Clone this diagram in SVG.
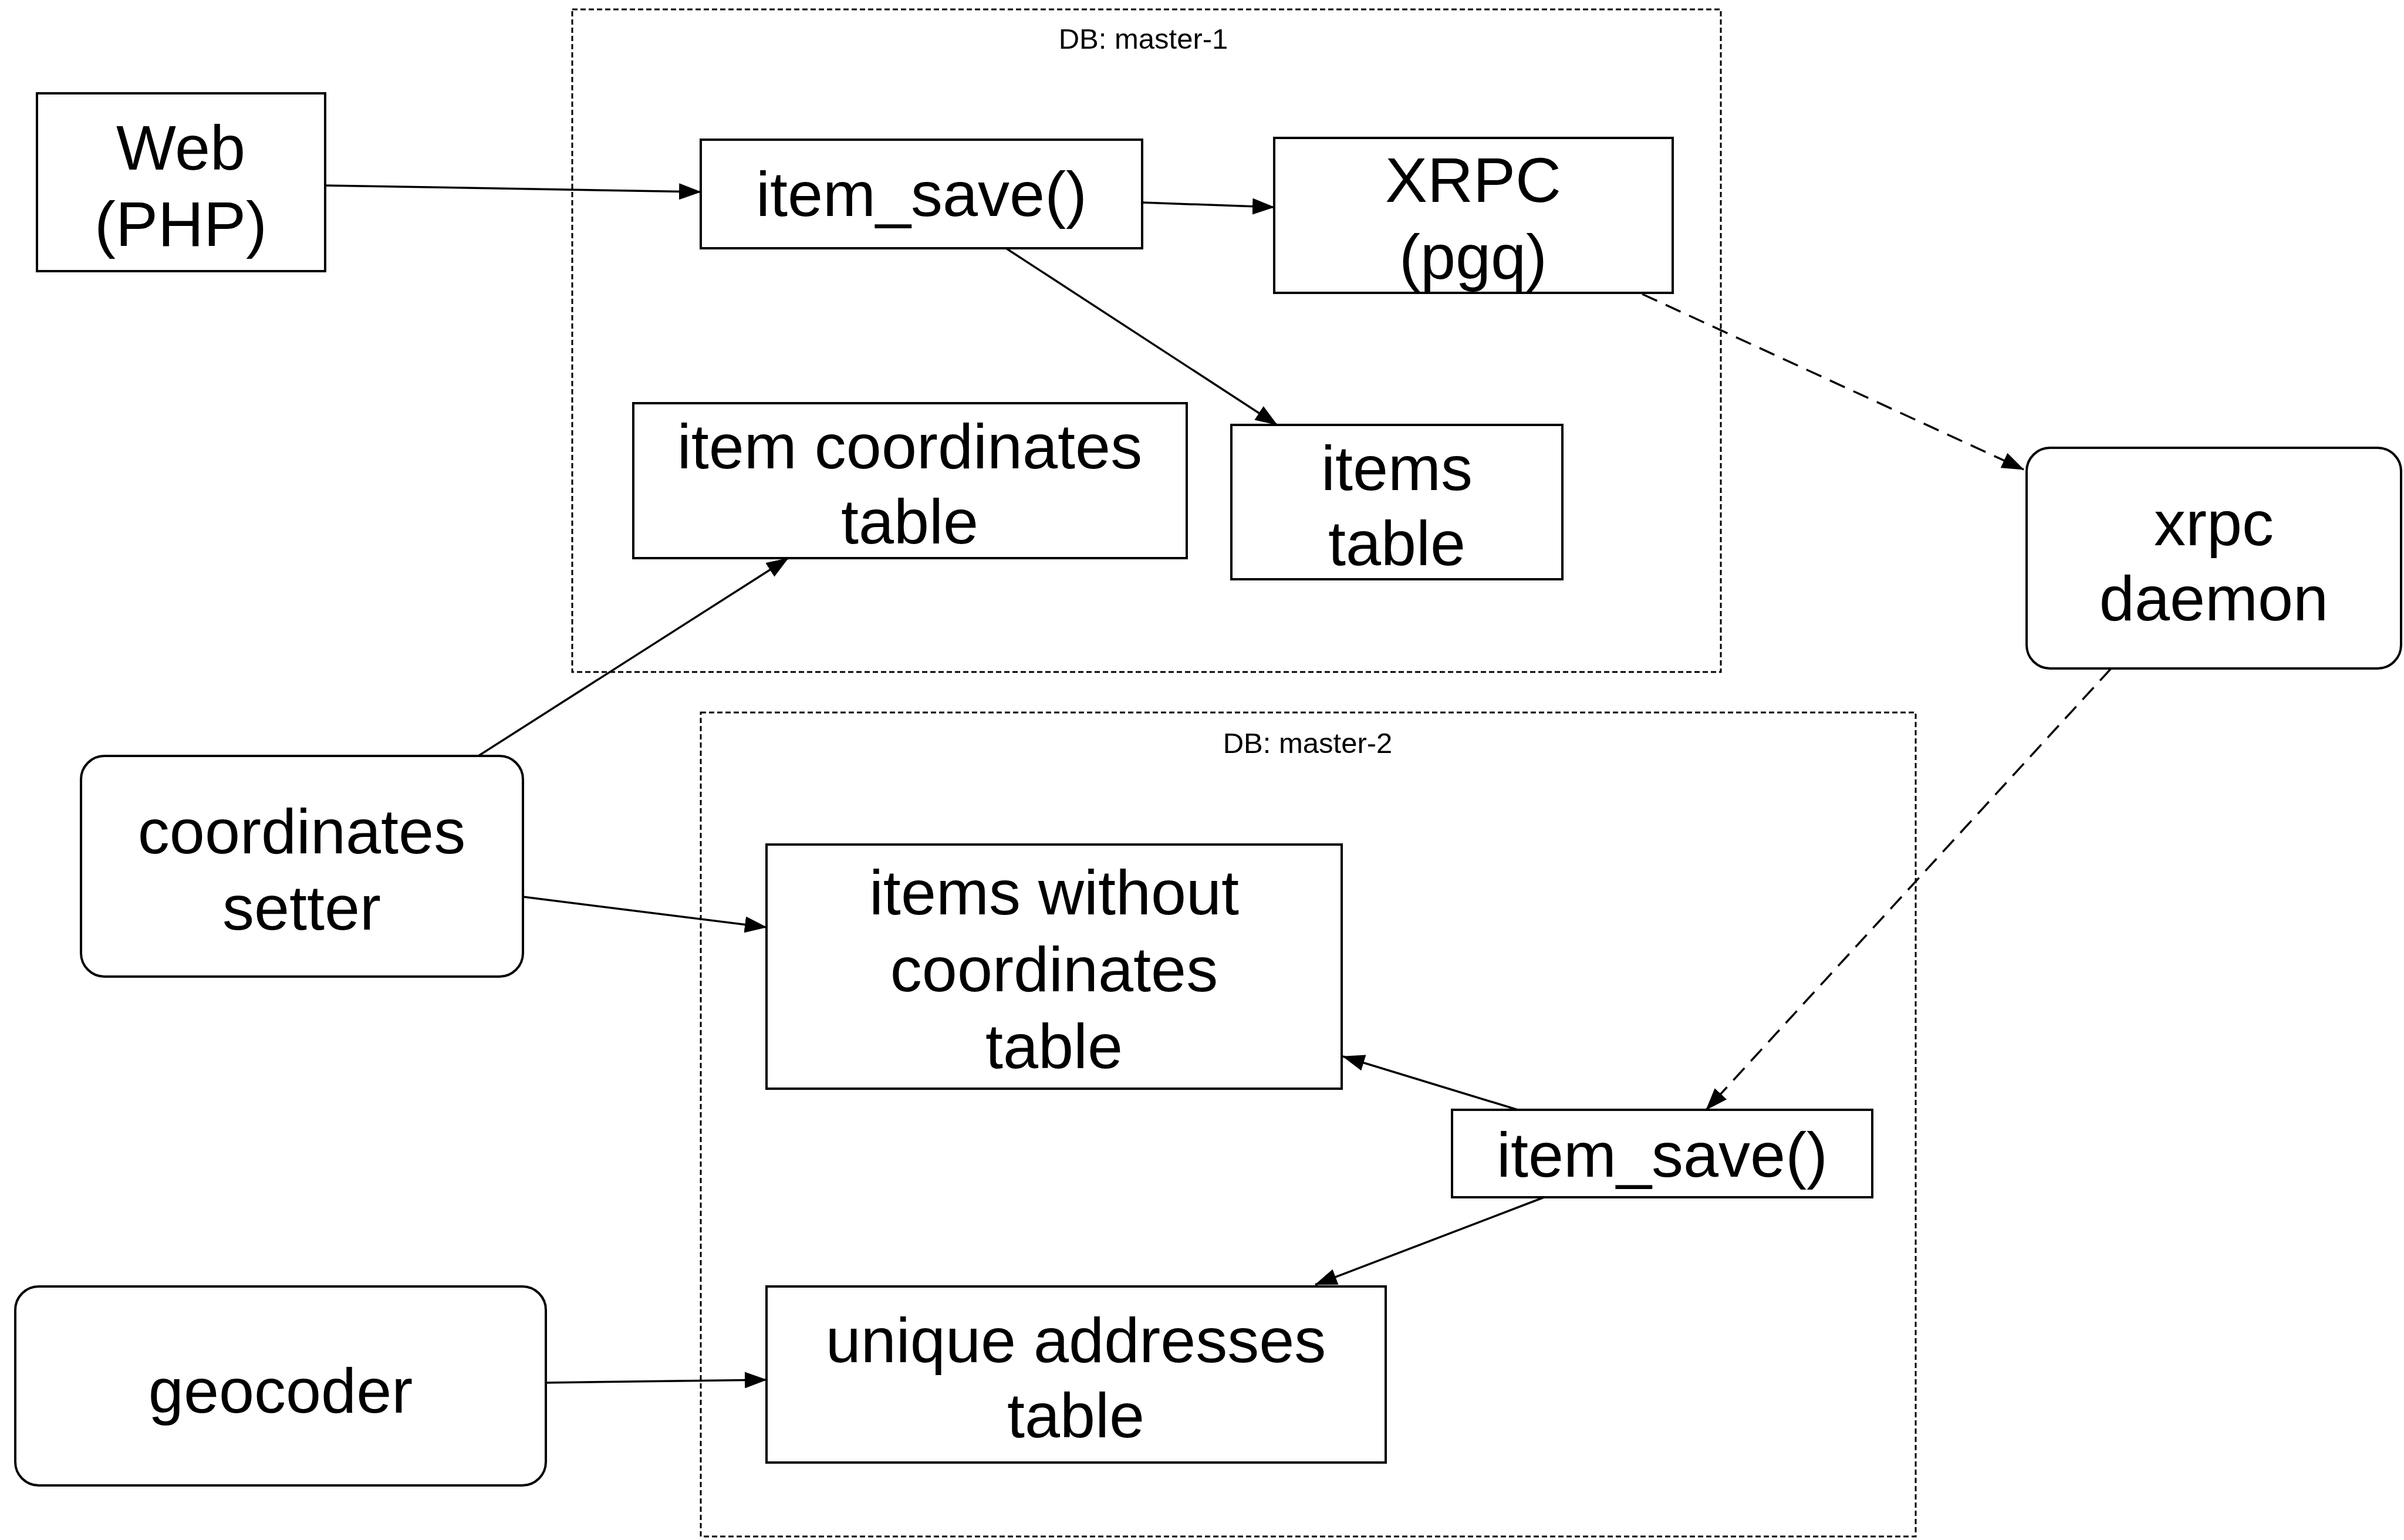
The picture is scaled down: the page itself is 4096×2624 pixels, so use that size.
<svg xmlns="http://www.w3.org/2000/svg" width="4096" height="2624" viewBox="0 0 4096 2624">
<defs>
<style>
.box{fill:#fff;stroke:#000;stroke-width:4}
.grp{fill:none;stroke:#000;stroke-width:3;stroke-dasharray:9 5}
.t{font-family:"Liberation Sans",Arial,Helvetica,sans-serif;font-size:108px;fill:#000;text-anchor:middle}
.lbl{font-family:"Liberation Sans",Arial,Helvetica,sans-serif;font-size:49px;fill:#000;text-anchor:middle}
.c{fill:none;stroke:#000;stroke-width:3.5}
.d{fill:none;stroke:#000;stroke-width:3.5;stroke-dasharray:28 16}
</style>
<marker id="arr" markerUnits="userSpaceOnUse" viewBox="0 0 38 28" refX="37" refY="14" markerWidth="38" markerHeight="28" orient="auto">
<path d="M0,0 L38,14 L0,28 Z" fill="#000"/>
</marker>
</defs>
<rect width="4096" height="2624" fill="#fff"/>
<g id="db-master-1">
<rect class="grp" x="975" y="16" width="1957" height="1129"/>
<text class="lbl" x="1948" y="83">DB: master-1</text>
</g>
<g id="db-master-2">
<rect class="grp" x="1194" y="1214" width="2070" height="1404"/>
<text class="lbl" x="2228" y="1283">DB: master-2</text>
</g>
<g id="connectors">
<line class="c" x1="554" y1="316" x2="1194" y2="327" marker-end="url(#arr)"/>
<line class="c" x1="1946" y1="345" x2="2171" y2="353" marker-end="url(#arr)"/>
<line class="c" x1="1714" y1="423" x2="2176" y2="724" marker-end="url(#arr)"/>
<line class="d" x1="2798" y1="501" x2="3448" y2="800" marker-end="url(#arr)"/>
<line class="d" x1="3597" y1="1139" x2="2907" y2="1891" marker-end="url(#arr)"/>
<line class="c" x1="815" y1="1288" x2="1343" y2="951" marker-end="url(#arr)"/>
<line class="c" x1="891" y1="1528" x2="1306" y2="1580" marker-end="url(#arr)"/>
<line class="c" x1="2586" y1="1891" x2="2288" y2="1800" marker-end="url(#arr)"/>
<line class="c" x1="2631" y1="2040" x2="2241" y2="2189" marker-end="url(#arr)"/>
<line class="c" x1="930" y1="2356" x2="1306" y2="2351" marker-end="url(#arr)"/>
</g>
<g id="web">
<rect class="box" x="63" y="159" width="491" height="303"/>
<text class="t" x="308" y="289">Web</text>
<text class="t" x="308" y="419">(PHP)</text>
</g>
<g id="item-save-1">
<rect class="box" x="1194" y="238" width="752" height="185"/>
<text class="t" x="1570" y="368">item_save()</text>
</g>
<g id="xrpc-pgq">
<rect class="box" x="2171" y="235" width="679" height="264"/>
<text class="t" x="2510" y="344">XRPC</text>
<text class="t" x="2510" y="475">(pgq)</text>
</g>
<g id="item-coordinates-table">
<rect class="box" x="1079" y="687" width="943" height="264"/>
<text class="t" x="1550" y="798">item coordinates</text>
<text class="t" x="1550" y="926">table</text>
</g>
<g id="items-table">
<rect class="box" x="2098" y="724" width="564" height="263"/>
<text class="t" x="2380" y="835">items</text>
<text class="t" x="2380" y="963">table</text>
</g>
<g id="xrpc-daemon">
<rect class="box" x="3453" y="763" width="638" height="376" rx="40" ry="40"/>
<text class="t" x="3772" y="929">xrpc</text>
<text class="t" x="3772" y="1057">daemon</text>
</g>
<g id="coordinates-setter">
<rect class="box" x="138" y="1288" width="753" height="376" rx="40" ry="40"/>
<text class="t" x="514" y="1454">coordinates</text>
<text class="t" x="514" y="1584">setter</text>
</g>
<g id="items-without-coordinates-table">
<rect class="box" x="1306" y="1439" width="980" height="416"/>
<text class="t" x="1796" y="1558">items without</text>
<text class="t" x="1796" y="1689">coordinates</text>
<text class="t" x="1796" y="1820">table</text>
</g>
<g id="item-save-2">
<rect class="box" x="2474" y="1891" width="716" height="149"/>
<text class="t" x="2832" y="2005">item_save()</text>
</g>
<g id="geocoder">
<rect class="box" x="26" y="2192" width="904" height="339" rx="40" ry="40"/>
<text class="t" x="478" y="2407">geocoder</text>
</g>
<g id="unique-addresses-table">
<rect class="box" x="1306" y="2192" width="1055" height="300"/>
<text class="t" x="1833" y="2321">unique addresses</text>
<text class="t" x="1833" y="2449">table</text>
</g>
</svg>
